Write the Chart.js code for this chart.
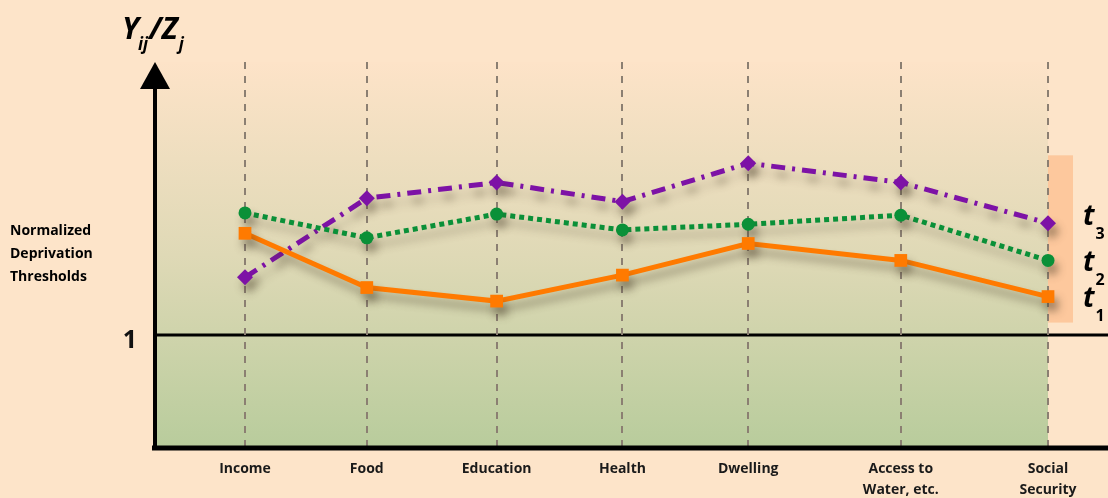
<!DOCTYPE html>
<html>
<head>
<meta charset="utf-8">
<script src="https://cdn.jsdelivr.net/npm/chart.js@4"></script>
<style>
    body { margin: 0; background: #fde4c9; }
    #wrap { width: 1108px; height: 498px; position: relative; }
</style>
</head>
<body>
<div id="wrap"><canvas id="chart"></canvas></div>
<script>
// Categories and their position along the x axis (Income = 0, Social Security = 6)
const categories = ['Income', 'Food', 'Education', 'Health', 'Dwelling', ['Access to', 'Water, etc.'], ['Social', 'Security']];
const categoryPos = [0, 0.91, 1.88, 2.82, 3.76, 4.9, 6];

// Normalized thresholds per dimension
const t1Values = [1.90, 1.42, 1.30, 1.53, 1.81, 1.66, 1.34];
const t2Values = [2.08, 1.86, 2.07, 1.93, 1.98, 2.06, 1.66];
const t3Values = [1.51, 2.21, 2.35, 2.18, 2.52, 2.35, 1.99];

// Only the "1" tick is labelled on the y axis
const yTicks = [1];
const seriesNames = ['1', '2', '3'];

const FONT = "'Open Sans', 'DejaVu Sans', sans-serif";
const PEACH = '#fde4c9';

// Plot background: peach canvas, gradient panel, orange legend strip, line at 1
const backgroundPlugin = {
    id: 'background',
    beforeDraw(chart) {
        const ctx = chart.ctx;
        const area = chart.chartArea;
        const x = chart.scales.x;
        const y = chart.scales.y;
        ctx.save();
        ctx.fillStyle = PEACH;
        ctx.fillRect(0, 0, chart.width, chart.height);

        const grad = ctx.createLinearGradient(0, area.top, 0, area.bottom);
        grad.addColorStop(0, '#fde3c8');
        grad.addColorStop(0.5, '#dfd9b6');
        grad.addColorStop(1, '#b8cc9c');
        ctx.fillStyle = grad;
        const right = x.getPixelForValue(categoryPos[categoryPos.length - 1]);
        ctx.fillRect(area.left, area.top, right - area.left, area.bottom - area.top);

        // legend strip behind the t labels
        ctx.fillStyle = '#fdc89d';
        const top = y.getPixelForValue(2.59);
        const bottom = y.getPixelForValue(1.11);
        ctx.fillRect(right, top, 25, bottom - top);

        // reference line at 1, running to the edge of the picture
        ctx.strokeStyle = '#000';
        ctx.lineWidth = 3;
        yTicks.forEach(v => {
            const py = y.getPixelForValue(v);
            ctx.beginPath();
            ctx.moveTo(area.left, py);
            ctx.lineTo(chart.width, py);
            ctx.stroke();
        });
        ctx.restore();
    }
};

// Soft drop shadow under the lines
const shadowPlugin = {
    id: 'shadow',
    beforeDatasetsDraw(chart) {
        const ctx = chart.ctx;
        ctx.save();
        ctx.shadowColor = 'rgba(70, 60, 40, 0.45)';
        ctx.shadowBlur = 8;
        ctx.shadowOffsetX = 4;
        ctx.shadowOffsetY = 8;
    },
    afterDatasetsDraw(chart) {
        chart.ctx.restore();
    }
};

// Axes with arrow, titles and t labels
const decorPlugin = {
    id: 'decor',
    afterDraw(chart) {
        const ctx = chart.ctx;
        const area = chart.chartArea;
        ctx.save();
        ctx.fillStyle = '#000';
        ctx.strokeStyle = '#000';

        // x axis
        ctx.lineWidth = 5;
        ctx.beginPath();
        ctx.moveTo(area.left - 3, area.bottom);
        ctx.lineTo(chart.width, area.bottom);
        ctx.stroke();

        // y axis with arrow head
        ctx.lineWidth = 4;
        ctx.beginPath();
        ctx.moveTo(area.left, area.bottom);
        ctx.lineTo(area.left, area.top + 20);
        ctx.stroke();
        ctx.beginPath();
        ctx.moveTo(area.left, area.top);
        ctx.lineTo(area.left + 15, area.top + 27);
        ctx.lineTo(area.left - 15, area.top + 27);
        ctx.closePath();
        ctx.fill();

        // y title: Y_ij / Z_j
        ctx.textBaseline = 'alphabetic';
        ctx.textAlign = 'left';
        let cx = 122;
        ctx.font = `italic bold 30px ${FONT}`;
        ctx.fillText('Y', cx, 39);
        cx += ctx.measureText('Y').width;
        ctx.font = `italic bold 17px ${FONT}`;
        ctx.fillText('ij', cx - 1, 50);
        cx += ctx.measureText('ij').width;
        ctx.font = `italic bold 30px ${FONT}`;
        ctx.fillText('/Z', cx, 39);
        cx += ctx.measureText('/Z').width;
        ctx.font = `italic bold 17px ${FONT}`;
        ctx.fillText('j', cx + 1, 50);

        // left label
        ctx.font = `bold 14px ${FONT}`;
        ctx.textBaseline = 'middle';
        ['Normalized', 'Deprivation', 'Thresholds'].forEach((line, i) => {
            ctx.fillText(line, 10, 231 + i * 23);
        });

        // t labels next to the last point of each series
        const labelDy = [10, 11, 2];
        ctx.textBaseline = 'alphabetic';
        chart.data.datasets.forEach((ds, i) => {
            const meta = chart.getDatasetMeta(i);
            const last = meta.data[meta.data.length - 1];
            const bx = last.x + 35;
            const by = last.y + labelDy[i];
            ctx.font = `italic bold 28px ${FONT}`;
            ctx.fillText('t', bx, by);
            const w = ctx.measureText('t').width;
            ctx.font = `bold 16px ${FONT}`;
            ctx.fillText(seriesNames[i], bx + w + 1, by + 14);
        });
        ctx.restore();
    }
};

function toPoints(values) {
    return values.map((v, i) => ({ x: categoryPos[i], y: v }));
}

const ctx = document.getElementById('chart').getContext('2d');
new Chart(ctx, {
    type: 'line',
    data: {
        datasets: [
            {
                label: 't1',
                data: toPoints(t1Values),
                borderColor: '#ff7a00',
                backgroundColor: '#ff7a00',
                borderWidth: 5,
                pointStyle: 'rect',
                pointRadius: 9,
                pointBorderWidth: 0,
                tension: 0
            },
            {
                label: 't2',
                data: toPoints(t2Values),
                borderColor: '#0a9038',
                backgroundColor: '#0a9038',
                borderWidth: 5,
                borderDash: [5, 4],
                pointStyle: 'circle',
                pointRadius: 6.5,
                pointBorderWidth: 0,
                tension: 0
            },
            {
                label: 't3',
                data: toPoints(t3Values),
                borderColor: '#7d12a6',
                backgroundColor: '#7d12a6',
                borderWidth: 5,
                borderDash: [14, 7, 3, 7],
                pointStyle: 'rectRot',
                pointRadius: 8,
                pointBorderWidth: 0,
                tension: 0
            }
        ]
    },
    options: {
        responsive: true,
        maintainAspectRatio: false,
        animation: false,
        layout: { padding: { top: 62, right: 0, left: 0, bottom: 0 } },
        plugins: {
            legend: { display: false },
            tooltip: { enabled: false }
        },
        scales: {
            x: {
                type: 'linear',
                min: -0.6725,
                max: 6.381,
                afterBuildTicks: (axis) => {
                    axis.ticks = categoryPos.map(v => ({ value: v }));
                },
                afterFit: (axis) => { axis.height = 50; },
                ticks: {
                    autoSkip: false,
                    maxRotation: 0,
                    padding: 11,
                    color: '#1a1a1a',
                    font: { family: FONT, size: 14, weight: 'bold', lineHeight: 1.5 },
                    callback: (value, index) => categories[index]
                },
                grid: {
                    color: '#8b7f72',
                    lineWidth: 2,
                    drawTicks: false
                },
                border: { display: false, dash: [7, 7] }
            },
            y: {
                min: 0,
                max: 3.416,
                afterBuildTicks: (axis) => {
                    axis.ticks = yTicks.map(v => ({ value: v }));
                },
                afterFit: (axis) => { axis.width = 155; },
                ticks: {
                    padding: 18,
                    labelOffset: 6,
                    color: '#111',
                    font: { family: FONT, size: 25, weight: 'bold' }
                },
                grid: { display: false, drawTicks: false },
                border: { display: false }
            }
        }
    },
    plugins: [backgroundPlugin, shadowPlugin, decorPlugin]
});
</script>
</body>
</html>
